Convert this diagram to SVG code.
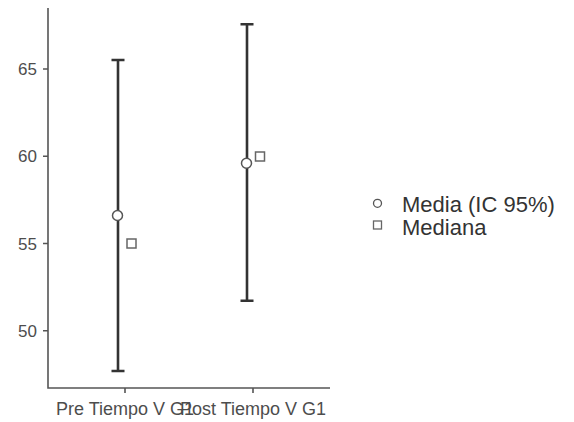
<svg xmlns="http://www.w3.org/2000/svg" width="574" height="422" viewBox="0 0 574 422">
<style>
.axis{stroke:#555;stroke-width:1.6;fill:none}
.bar{stroke:#333;stroke-width:2.6;fill:none}
.mean{fill:#fff;stroke:#555;stroke-width:1.5}
.med{fill:#fff;stroke:#666;stroke-width:1.5}
.yt{font-family:"Liberation Sans",Arial,sans-serif;font-size:17px;fill:#4d4d4d;text-anchor:end}
.xt{font-family:"Liberation Sans",Arial,sans-serif;font-size:18px;fill:#4d4d4d;text-anchor:middle}
.lg{font-family:"Liberation Sans",Arial,sans-serif;font-size:22px;fill:#333}
</style>
<rect width="574" height="422" fill="#fff"/>
<g id="axes">
<path class="axis" d="M48,8V388H330"/>
<path class="axis" d="M43,69H48M43,156.3H48M43,243.5H48M43,330.8H48M125,388V393M253,388V393"/>
<text class="yt" x="37" y="75">65</text>
<text class="yt" x="37" y="162">60</text>
<text class="yt" x="37" y="249.5">55</text>
<text class="yt" x="37" y="337">50</text>
<text class="xt" x="125" y="415">Pre Tiempo V G1</text>
<text class="xt" x="253" y="415">Post Tiempo V G1</text>
</g>
<g id="connectors">
<path class="bar" d="M118,60V371M111.5,60H124.5M111.5,371H124.5"/>
<path class="bar" d="M247,24.3V300.7M240.5,24.3H253.5M240.5,300.7H253.5"/>
</g>
<g id="pre">
<circle class="mean" cx="117.5" cy="215.5" r="5"/>
<rect class="med" x="127" y="239" width="9" height="9"/>
</g>
<g id="post">
<circle class="mean" cx="246.5" cy="163.3" r="5"/>
<rect class="med" x="255.5" y="152" width="9" height="9"/>
</g>
<g id="legend">
<circle cx="377.5" cy="203.3" r="4" fill="#fff" stroke="#555" stroke-width="1.3"/>
<rect x="373.5" y="221" width="8" height="8" fill="#fff" stroke="#666" stroke-width="1.3"/>
<text class="lg" x="402" y="212">Media (IC 95%)</text>
<text class="lg" x="402" y="235">Mediana</text>
</g>
</svg>
